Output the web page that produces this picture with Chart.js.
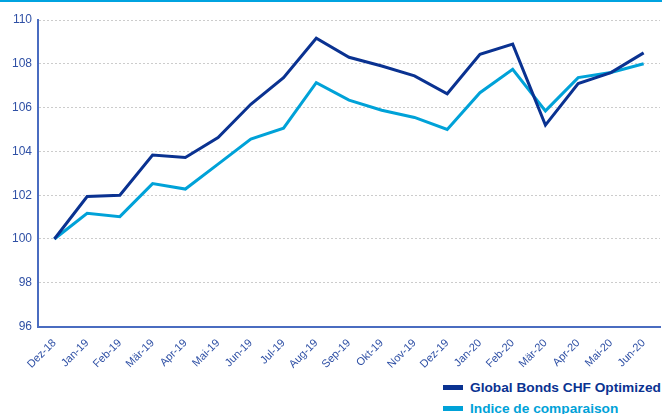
<!DOCTYPE html>
<html>
<head>
<meta charset="utf-8">
<script src="https://cdn.jsdelivr.net/npm/chart.js@4"></script>
<style>
  html, body { margin: 0; padding: 0; background: #fff; }
  body { width: 662px; height: 414px; overflow: hidden; position: relative; font-family: "Liberation Sans", Arial, sans-serif; }
  #topline { position: absolute; left: 0; top: 0; width: 662px; height: 2px; background: #00a3e0; }
  #wrap { position: absolute; left: 0; top: 0; width: 662px; height: 373px; }
  #legend { position: absolute; left: 443px; top: 377px; }
  .item { display: flex; align-items: center; height: 21px; font-weight: bold; font-size: 13.7px; white-space: nowrap; }
  .swatch { width: 20px; height: 5px; margin-right: 7px; }
</style>
</head>
<body>
<div id="topline"></div>
<div id="wrap"><canvas id="chart"></canvas></div>
<div id="legend"></div>
<script>
// Data
const months = ['Dez-18', 'Jan-19', 'Feb-19', 'Mär-19', 'Apr-19', 'Mai-19', 'Jun-19', 'Jul-19', 'Aug-19',
  'Sep-19', 'Okt-19', 'Nov-19', 'Dez-19', 'Jan-20', 'Feb-20', 'Mär-20', 'Apr-20', 'Mai-20', 'Jun-20'];
const fundValues = [100, 101.94, 102.0, 103.83, 103.72, 104.63, 106.15, 107.37, 109.17,
  108.3, 107.9, 107.45, 106.63, 108.43, 108.9, 105.2, 107.1, 107.6, 108.5];
const benchValues = [100, 101.17, 101.02, 102.53, 102.28, 103.42, 104.56, 105.06, 107.14,
  106.34, 105.88, 105.55, 105.0, 106.68, 107.75, 105.85, 107.37, 107.6, 108.0];
const seriesNames = ['Global Bonds CHF Optimized', 'Indice de comparaison'];

const colors = { fund: '#0a3291', bench: '#00a2d8', ticks: '#2f50a5', axis: '#4a6cc0', grid: '#cccccc' };

const ctx = document.getElementById('chart');
new Chart(ctx, {
  type: 'line',
  data: {
    labels: months,
    datasets: [
      { label: seriesNames[0], data: fundValues, borderColor: colors.fund, borderWidth: 3, pointRadius: 0, tension: 0, order: 1 },
      { label: seriesNames[1], data: benchValues, borderColor: colors.bench, borderWidth: 3, pointRadius: 0, tension: 0, order: 2 }
    ]
  },
  options: {
    responsive: true,
    maintainAspectRatio: false,
    animation: false,
    layout: { padding: { top: 20, right: 2, left: 6, bottom: 0 } },
    plugins: { legend: { display: false }, tooltip: { enabled: false } },
    scales: {
      x: {
        offset: true,
        grid: { display: false },
        border: { display: true, color: colors.axis, width: 2 },
        ticks: {
          color: colors.ticks,
          font: { family: 'Liberation Sans', size: 11 },
          maxRotation: 45, minRotation: 45,
          autoSkip: false, padding: 2
        }
      },
      y: {
        min: 96, max: 110,
        grid: { color: colors.grid, drawTicks: false, tickLength: 0 },
        border: { display: true, color: colors.axis, width: 2, dash: [2, 2] },
        ticks: {
          stepSize: 2, color: colors.ticks, padding: 6,
          font: { family: 'Liberation Sans', size: 12 }
        }
      }
    }
  }
});

// Legend as HTML, stacked at the bottom right
const legend = document.getElementById('legend');
[[seriesNames[0], colors.fund], [seriesNames[1], colors.bench]].forEach(([name, c]) => {
  const row = document.createElement('div');
  row.className = 'item';
  row.style.color = c;
  row.innerHTML = `<span class="swatch" style="background:${c}"></span>${name}`;
  legend.appendChild(row);
});
</script>
</body>
</html>
